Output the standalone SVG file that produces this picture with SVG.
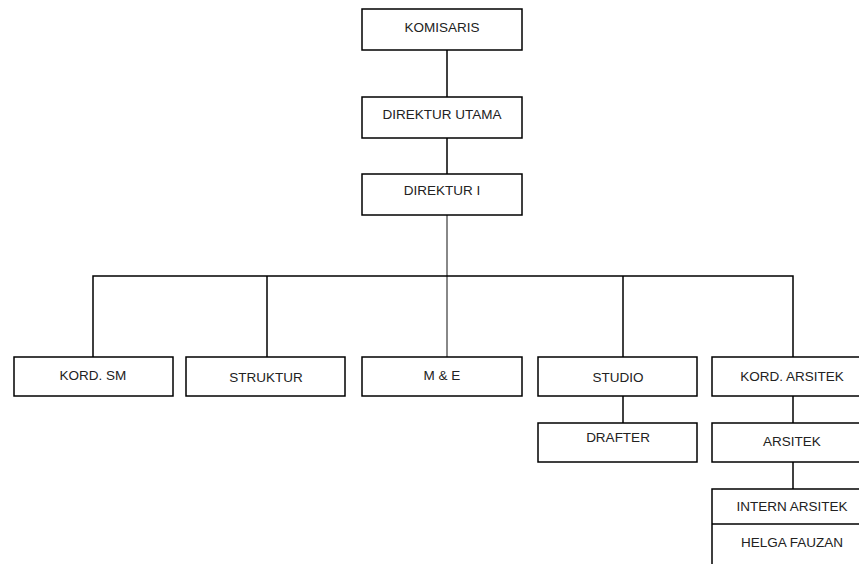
<svg xmlns="http://www.w3.org/2000/svg" width="859" height="564" viewBox="0 0 859 564">
<style>
.box{fill:#fff;stroke:#000;stroke-width:1.5}
.t{font-family:"Liberation Sans",Arial,sans-serif;font-size:13.5px;fill:#222;text-anchor:middle;dominant-baseline:central}
.c{fill:none;stroke:#000;stroke-width:1.5}
.g{fill:none;stroke:#606060;stroke-width:1.5}
</style>
<rect width="859" height="564" fill="#fff"/>
<g id="connectors">
<line class="c" x1="447" y1="50" x2="447" y2="97"/>
<line class="c" x1="447" y1="138" x2="447" y2="174"/>
<line class="g" x1="447" y1="215" x2="447" y2="357"/>
<polyline class="c" points="93,357 93,276 793,276 793,357"/>
<line class="c" x1="267" y1="276" x2="267" y2="357"/>
<line class="c" x1="623" y1="276" x2="623" y2="357"/>
<line class="c" x1="623" y1="396" x2="623" y2="423"/>
<line class="c" x1="793" y1="396" x2="793" y2="423"/>
<line class="c" x1="793" y1="462" x2="793" y2="489"/>
</g>
<g id="komisaris"><rect class="box" x="362" y="9" width="160" height="41"/><text class="t" x="442" y="27">KOMISARIS</text></g>
<g id="direktur-utama"><rect class="box" x="362" y="97" width="160" height="41"/><text class="t" x="442" y="114">DIREKTUR UTAMA</text></g>
<g id="direktur-i"><rect class="box" x="362" y="174" width="160" height="41"/><text class="t" x="442" y="190">DIREKTUR I</text></g>
<g id="kord-sm"><rect class="box" x="14" y="357" width="159" height="39"/><text class="t" x="93" y="375">KORD. SM</text></g>
<g id="struktur"><rect class="box" x="186" y="357" width="159" height="39"/><text class="t" x="266" y="377">STRUKTUR</text></g>
<g id="m-e"><rect class="box" x="362" y="357" width="160" height="39"/><text class="t" x="442" y="375">M &amp; E</text></g>
<g id="studio"><rect class="box" x="538" y="357" width="159" height="39"/><text class="t" x="618" y="377">STUDIO</text></g>
<g id="kord-arsitek"><rect class="box" x="712" y="357" width="160" height="39"/><text class="t" x="792" y="376">KORD. ARSITEK</text></g>
<g id="drafter"><rect class="box" x="538" y="423" width="159" height="39"/><text class="t" x="618" y="437">DRAFTER</text></g>
<g id="arsitek"><rect class="box" x="712" y="423" width="160" height="39"/><text class="t" x="792" y="441">ARSITEK</text></g>
<g id="intern-arsitek"><rect class="box" x="712" y="489" width="160" height="90"/><line class="c" x1="712" y1="524" x2="872" y2="524"/><text class="t" x="792" y="506">INTERN ARSITEK</text><text class="t" x="792" y="542">HELGA FAUZAN</text></g>
</svg>
